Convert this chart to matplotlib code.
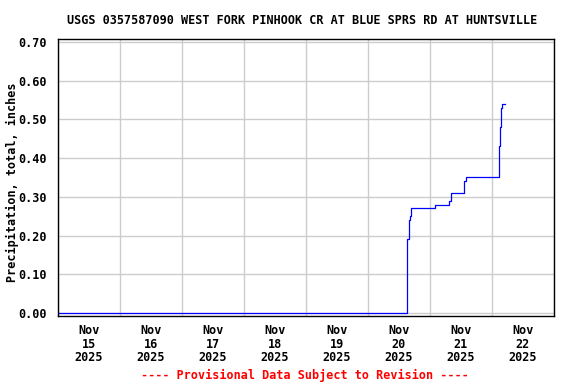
import matplotlib
matplotlib.use('Agg')
import matplotlib.pyplot as plt
import pandas as pd

# cumulative precipitation, inches (step series)
times = ['2025-11-15 00:00', '2025-11-20 15:15', '2025-11-20 15:45', '2025-11-20 16:15',
         '2025-11-20 16:45', '2025-11-21 01:45', '2025-11-21 07:30', '2025-11-21 08:00',
         '2025-11-21 08:15', '2025-11-21 13:15', '2025-11-21 13:45', '2025-11-22 02:45',
         '2025-11-22 03:15', '2025-11-22 03:30', '2025-11-22 04:00', '2025-11-22 05:00']
precip = [0.00, 0.19, 0.24, 0.25, 0.27, 0.28, 0.29, 0.30, 0.31, 0.34, 0.35, 0.43,
          0.48, 0.53, 0.54, 0.54]

yticks = [0.0, 0.1, 0.2, 0.3, 0.4, 0.5, 0.6, 0.7]
days = pd.date_range('2025-11-15', '2025-11-23', freq='D')
title = 'USGS 0357587090 WEST FORK PINHOOK CR AT BLUE SPRS RD AT HUNTSVILLE'

plt.rcParams['font.family'] = 'DejaVu Sans Mono'
plt.rcParams['font.weight'] = 'bold'
fs = 8.5

t = pd.to_datetime(times)

fig = plt.figure(figsize=(5.76, 3.84), dpi=100)
ax = fig.add_axes([58/576, 1-316/384, 496/576, 276.7/384])

ax.plot(t, precip, drawstyle='steps-post', color='#0000ff', lw=0.9)

ax.set_xlim(days[0], days[-1])
ax.set_ylim(-0.008, 0.707)

ax.set_yticks(yticks)
ax.set_yticklabels(['%.2f' % v for v in yticks], fontsize=fs, fontweight='bold')
ax.set_xticks(days)
ax.set_xticklabels([''] * len(days))
noons = days[:-1] + pd.Timedelta(hours=12)
ax.set_xticks(noons, minor=True)
ax.set_xticklabels([d.strftime('%b\n%d\n%Y') for d in noons], minor=True,
                   fontsize=fs, fontweight='bold', linespacing=1.03)
ax.tick_params(axis='both', which='both', length=0)
ax.tick_params(axis='y', pad=8)
ax.tick_params(axis='x', which='minor', pad=6)

ax.grid(True, which='major', color='#cccccc', lw=1)
ax.set_axisbelow(True)
for s in ax.spines.values():
    s.set_linewidth(1.0)
    s.set_color('black')

fig.text(302/576, 1-20/384, title, ha='center', va='center', fontsize=fs, fontweight='bold')
fig.text(12/576, 1-182/384, 'Precipitation, total, inches', rotation=90,
         ha='center', va='center', fontsize=fs, fontweight='bold')
fig.text(305/576, 1-375/384, '---- Provisional Data Subject to Revision ----',
         ha='center', va='center', fontsize=fs, fontweight='bold', color='red')

fig.savefig('out.png', dpi=100)
